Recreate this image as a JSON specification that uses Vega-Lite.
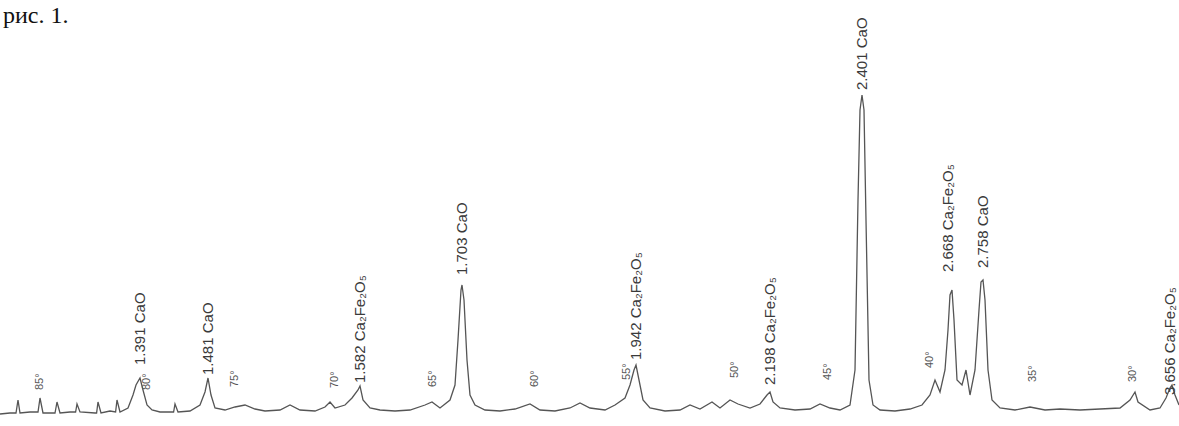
{
  "$schema": "https://vega.github.io/schema/vega-lite/v6.json",
  "width": 1179,
  "height": 426,
  "padding": 0,
  "autosize": "none",
  "background": "white",
  "config": {"view": {"stroke": null}},
  "datasets": {
    "pattern": [
      {"theta": 86.9, "I": 12}, {"theta": 86.4, "I": 13}, {"theta": 86.1, "I": 13}, {"theta": 86.0, "I": 26}, {"theta": 85.9, "I": 13},
      {"theta": 85.4, "I": 14}, {"theta": 85.0, "I": 14}, {"theta": 84.9, "I": 28}, {"theta": 84.75, "I": 13}, {"theta": 84.15, "I": 13},
      {"theta": 84.05, "I": 24}, {"theta": 83.9, "I": 13}, {"theta": 83.4, "I": 14}, {"theta": 83.12, "I": 14}, {"theta": 83.05, "I": 22},
      {"theta": 82.9, "I": 14}, {"theta": 82.15, "I": 13}, {"theta": 82.07, "I": 13}, {"theta": 82.0, "I": 24}, {"theta": 81.85, "I": 13},
      {"theta": 81.4, "I": 15}, {"theta": 81.12, "I": 14}, {"theta": 81.05, "I": 26}, {"theta": 80.9, "I": 14}, {"theta": 80.5, "I": 18},
      {"theta": 80.25, "I": 31}, {"theta": 80.1, "I": 41}, {"theta": 79.9, "I": 48}, {"theta": 79.75, "I": 36}, {"theta": 79.55, "I": 21},
      {"theta": 79.3, "I": 16}, {"theta": 78.9, "I": 14}, {"theta": 78.4, "I": 14}, {"theta": 78.22, "I": 14}, {"theta": 78.15, "I": 22},
      {"theta": 78.0, "I": 14}, {"theta": 77.4, "I": 15}, {"theta": 76.9, "I": 21}, {"theta": 76.65, "I": 34}, {"theta": 76.5, "I": 48},
      {"theta": 76.35, "I": 31}, {"theta": 76.15, "I": 18}, {"theta": 75.65, "I": 16}, {"theta": 75.15, "I": 19}, {"theta": 74.65, "I": 21},
      {"theta": 74.15, "I": 17}, {"theta": 73.65, "I": 15}, {"theta": 72.9, "I": 16}, {"theta": 72.4, "I": 21}, {"theta": 71.9, "I": 16},
      {"theta": 71.15, "I": 15}, {"theta": 70.65, "I": 19}, {"theta": 70.4, "I": 24}, {"theta": 70.15, "I": 18}, {"theta": 69.65, "I": 21},
      {"theta": 69.3, "I": 28}, {"theta": 69.0, "I": 36}, {"theta": 68.9, "I": 40}, {"theta": 68.75, "I": 26}, {"theta": 68.4, "I": 18},
      {"theta": 67.9, "I": 16}, {"theta": 67.15, "I": 15}, {"theta": 66.4, "I": 16}, {"theta": 65.65, "I": 21}, {"theta": 65.3, "I": 24},
      {"theta": 64.9, "I": 18}, {"theta": 64.4, "I": 26}, {"theta": 64.15, "I": 41}, {"theta": 64.0, "I": 86}, {"theta": 63.85, "I": 136},
      {"theta": 63.8, "I": 141}, {"theta": 63.7, "I": 126}, {"theta": 63.55, "I": 66}, {"theta": 63.4, "I": 31}, {"theta": 63.15, "I": 21},
      {"theta": 62.65, "I": 16}, {"theta": 61.9, "I": 15}, {"theta": 61.15, "I": 17}, {"theta": 60.4, "I": 22}, {"theta": 59.9, "I": 16},
      {"theta": 59.15, "I": 15}, {"theta": 58.4, "I": 18}, {"theta": 57.9, "I": 23}, {"theta": 57.4, "I": 18}, {"theta": 56.65, "I": 16},
      {"theta": 56.15, "I": 21}, {"theta": 55.65, "I": 28}, {"theta": 55.4, "I": 41}, {"theta": 55.2, "I": 56}, {"theta": 55.1, "I": 61},
      {"theta": 54.95, "I": 46}, {"theta": 54.75, "I": 26}, {"theta": 54.4, "I": 18}, {"theta": 53.65, "I": 15}, {"theta": 52.9, "I": 16},
      {"theta": 52.4, "I": 21}, {"theta": 51.9, "I": 17}, {"theta": 51.3, "I": 24}, {"theta": 50.9, "I": 18}, {"theta": 50.4, "I": 26},
      {"theta": 50.0, "I": 22}, {"theta": 49.4, "I": 18}, {"theta": 48.9, "I": 22}, {"theta": 48.55, "I": 31}, {"theta": 48.4, "I": 34},
      {"theta": 48.25, "I": 24}, {"theta": 47.9, "I": 18}, {"theta": 47.15, "I": 16}, {"theta": 46.4, "I": 17}, {"theta": 45.9, "I": 22},
      {"theta": 45.4, "I": 18}, {"theta": 44.9, "I": 16}, {"theta": 44.4, "I": 21}, {"theta": 44.15, "I": 56}, {"theta": 44.0, "I": 226},
      {"theta": 43.9, "I": 316}, {"theta": 43.8, "I": 331}, {"theta": 43.7, "I": 316}, {"theta": 43.6, "I": 206}, {"theta": 43.45, "I": 46},
      {"theta": 43.25, "I": 21}, {"theta": 42.9, "I": 16}, {"theta": 42.15, "I": 15}, {"theta": 41.4, "I": 17}, {"theta": 40.8, "I": 21},
      {"theta": 40.4, "I": 31}, {"theta": 40.15, "I": 46}, {"theta": 39.9, "I": 34}, {"theta": 39.65, "I": 56}, {"theta": 39.5, "I": 96},
      {"theta": 39.4, "I": 131}, {"theta": 39.3, "I": 136}, {"theta": 39.2, "I": 106}, {"theta": 39.05, "I": 46}, {"theta": 38.8, "I": 41},
      {"theta": 38.6, "I": 56}, {"theta": 38.4, "I": 31}, {"theta": 38.15, "I": 56}, {"theta": 37.95, "I": 116}, {"theta": 37.85, "I": 144},
      {"theta": 37.75, "I": 146}, {"theta": 37.65, "I": 126}, {"theta": 37.5, "I": 56}, {"theta": 37.3, "I": 26}, {"theta": 36.9, "I": 18},
      {"theta": 36.15, "I": 16}, {"theta": 35.4, "I": 19}, {"theta": 34.65, "I": 16}, {"theta": 33.9, "I": 17}, {"theta": 32.9, "I": 16},
      {"theta": 31.9, "I": 17}, {"theta": 30.9, "I": 18}, {"theta": 30.4, "I": 26}, {"theta": 30.15, "I": 34}, {"theta": 30.0, "I": 24},
      {"theta": 29.4, "I": 16}, {"theta": 28.9, "I": 18}, {"theta": 28.6, "I": 28}, {"theta": 28.4, "I": 38}, {"theta": 28.3, "I": 41},
      {"theta": 28.15, "I": 31}, {"theta": 27.95, "I": 21}
    ],
    "peaks": [
      {"theta": 79.9, "I": 61, "label": "1.391 CaO"},
      {"theta": 76.5, "I": 51, "label": "1.481 CaO"},
      {"theta": 68.9, "I": 43, "label": "1.582 Ca₂Fe₂O₅"},
      {"theta": 63.8, "I": 151, "label": "1.703 CaO"},
      {"theta": 55.1, "I": 66, "label": "1.942 Ca₂Fe₂O₅"},
      {"theta": 48.4, "I": 41, "label": "2.198 Ca₂Fe₂O₅"},
      {"theta": 43.8, "I": 336, "label": "2.401 CaO"},
      {"theta": 39.5, "I": 154, "label": "2.668 Ca₂Fe₂O₅"},
      {"theta": 37.75, "I": 158, "label": "2.758 CaO"},
      {"theta": 28.4, "I": 31, "label": "3.656 Ca₂Fe₂O₅"}
    ],
    "angles": [
      {"theta": 84.9, "I": 36, "label": "85°"},
      {"theta": 79.55, "I": 36, "label": "80°"},
      {"theta": 75.15, "I": 39, "label": "75°"},
      {"theta": 70.15, "I": 38, "label": "70°"},
      {"theta": 65.25, "I": 39, "label": "65°"},
      {"theta": 60.15, "I": 39, "label": "60°"},
      {"theta": 55.55, "I": 46, "label": "55°"},
      {"theta": 50.15, "I": 48, "label": "50°"},
      {"theta": 45.5, "I": 46, "label": "45°"},
      {"theta": 40.4, "I": 58, "label": "40°"},
      {"theta": 35.25, "I": 44, "label": "35°"},
      {"theta": 30.25, "I": 44, "label": "30°"}
    ],
    "caption": [
      {"theta": 86.75, "I": 403, "label": "рис. 1."}
    ]
  },
  "encoding": {
    "x": {"field": "theta", "type": "quantitative", "axis": null,
          "scale": {"domain": [27.95, 86.9], "reverse": true, "nice": false, "zero": false}},
    "y": {"field": "I", "type": "quantitative", "axis": null,
          "scale": {"domain": [0, 426], "nice": false, "zero": false}}
  },
  "layer": [
    {
      "data": {"name": "pattern"},
      "mark": {"type": "line", "color": "#555555", "strokeWidth": 1.3, "interpolate": "linear"}
    },
    {
      "data": {"name": "peaks"},
      "mark": {"type": "text", "angle": 270, "align": "left", "baseline": "middle",
               "font": "Liberation Sans", "fontSize": 15, "fill": "#3a3a3a"},
      "encoding": {"text": {"field": "label"}}
    },
    {
      "data": {"name": "angles"},
      "mark": {"type": "text", "angle": 270, "align": "left", "baseline": "middle",
               "font": "Liberation Sans", "fontSize": 11, "fill": "#555555"},
      "encoding": {"text": {"field": "label"}}
    },
    {
      "data": {"name": "caption"},
      "mark": {"type": "text", "align": "left", "baseline": "alphabetic",
               "font": "Liberation Serif", "fontSize": 24, "fill": "#111111"},
      "encoding": {"text": {"field": "label"}}
    }
  ]
}
